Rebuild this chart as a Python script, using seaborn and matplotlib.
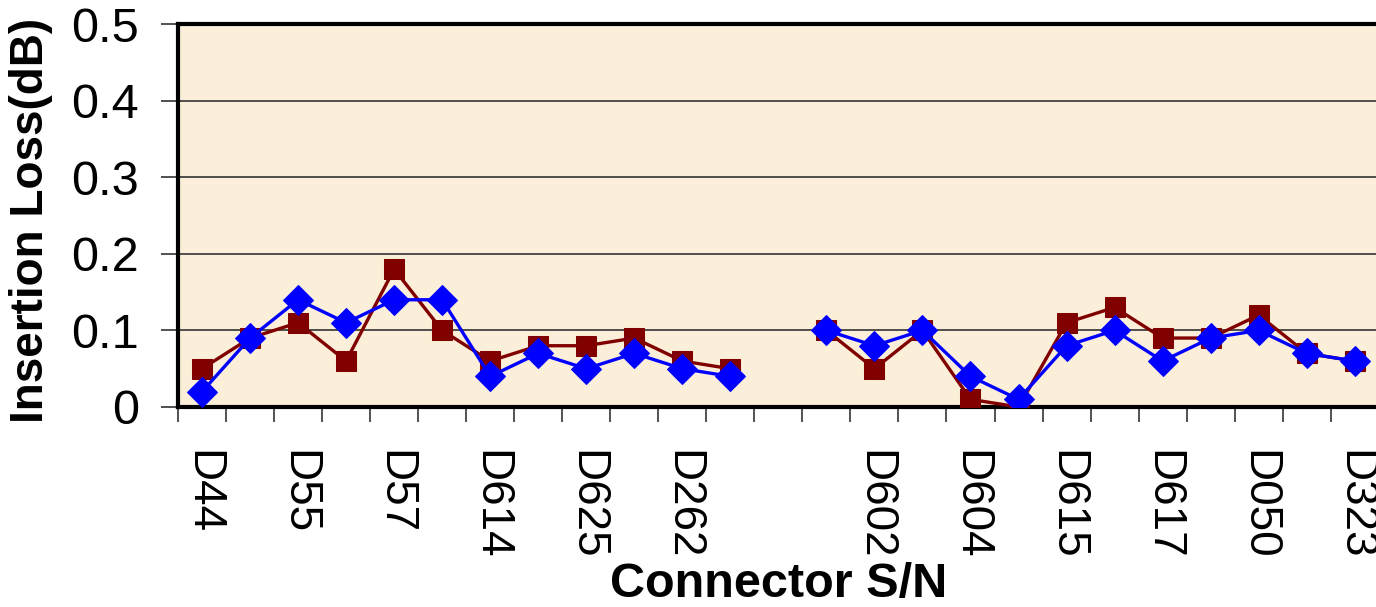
import numpy as np
import pandas as pd
import matplotlib
matplotlib.use("Agg")
import matplotlib.pyplot as plt
import seaborn as sns

# ---- data ----
categories = ["D44", "", "D55", "", "D57", "", "D614", "", "D625", "", "D262", "",
              "", "",
              "D602", "", "D604", "", "D615", "", "D617", "", "D050", "", "D323"]
series_a = [0.02, 0.09, 0.14, 0.11, 0.14, 0.14, 0.04, 0.07, 0.05, 0.07, 0.05, 0.04,
            np.nan,
            0.10, 0.08, 0.10, 0.04, 0.01, 0.08, 0.10, 0.06, 0.09, 0.10, 0.07, 0.06]
series_b = [0.05, 0.09, 0.11, 0.06, 0.18, 0.10, 0.06, 0.08, 0.08, 0.09, 0.06, 0.05,
            np.nan,
            0.10, 0.05, 0.10, 0.01, 0.00, 0.11, 0.13, 0.09, 0.09, 0.12, 0.07, 0.06]
y_ticks = [0, 0.1, 0.2, 0.3, 0.4, 0.5]
y_tick_labels = ["0", "0.1", "0.2", "0.3", "0.4", "0.5"]

sns.set_style("white")
plt.rcParams["font.family"] = ["Liberation Sans", "DejaVu Sans"]
plt.rcParams["text.color"] = "black"
plt.rcParams["axes.labelcolor"] = "black"
plt.rcParams["xtick.color"] = "black"
plt.rcParams["ytick.color"] = "black"

fig = plt.figure(figsize=(13.76, 6.07), dpi=100)
ax = fig.add_axes([178 / 1376, 1 - 407 / 607, 1 - 178 / 1376 + 0.002, (407 - 24) / 607])
ax.set_facecolor("#FCEFD9")

idx = np.arange(len(categories))
df = pd.DataFrame({"pos": idx, "A": series_a, "B": series_b})
# segment id: break lines where values are missing
df["seg"] = np.cumsum(df["A"].isna().astype(int))
df = df.dropna()

for col, color, marker, ms in [("A", "#0000FF", "D", 15.5), ("B", "#800000", "s", 14.5)]:
    sns.lineplot(data=df, x="pos", y=col, units="seg", estimator=None, ax=ax,
                 color=color, linewidth=2.4, marker=marker, markersize=ms,
                 markeredgecolor=color, zorder=3 if col == "B" else 4, legend=False)

ax.set_xlim(-0.5, len(categories) - 0.5)
ax.set_ylim(0, 0.5)

# grid
ax.set_yticks(y_ticks)
ax.set_yticklabels(y_tick_labels, fontsize=35)
ax.yaxis.grid(True, color="#333333", linewidth=1.2)
ax.set_axisbelow(True)
ax.tick_params(axis="y", direction="out", length=12, width=1.2, color="#333333", pad=16, left=True)

# x ticks: labels at centers, tick marks at boundaries
ax.set_xticks(idx)
ax.set_xticklabels(categories, rotation=-90, fontsize=33, va="top", ha="center")
ax.tick_params(axis="x", which="major", length=0, pad=31, bottom=True)
ax.set_xticks(np.arange(-0.5, len(categories) - 0.4, 1), minor=True)
ax.tick_params(axis="x", which="minor", direction="out", length=11, width=1.2,
               color="#333333", bottom=True)

for s in ["left", "bottom", "top"]:
    ax.spines[s].set_visible(True)
    ax.spines[s].set_color("black")
    ax.spines[s].set_linewidth(3)
ax.spines["right"].set_visible(False)

ax.set_xlabel("Connector S/N", fontsize=35, fontweight="bold")
ax.xaxis.set_label_coords(0.5, -0.405)
ax.set_ylabel("Insertion Loss(dB)", fontsize=33, fontweight="bold")
ax.yaxis.set_label_coords(-0.104, 0.486)

fig.savefig("out.png", dpi=100)
